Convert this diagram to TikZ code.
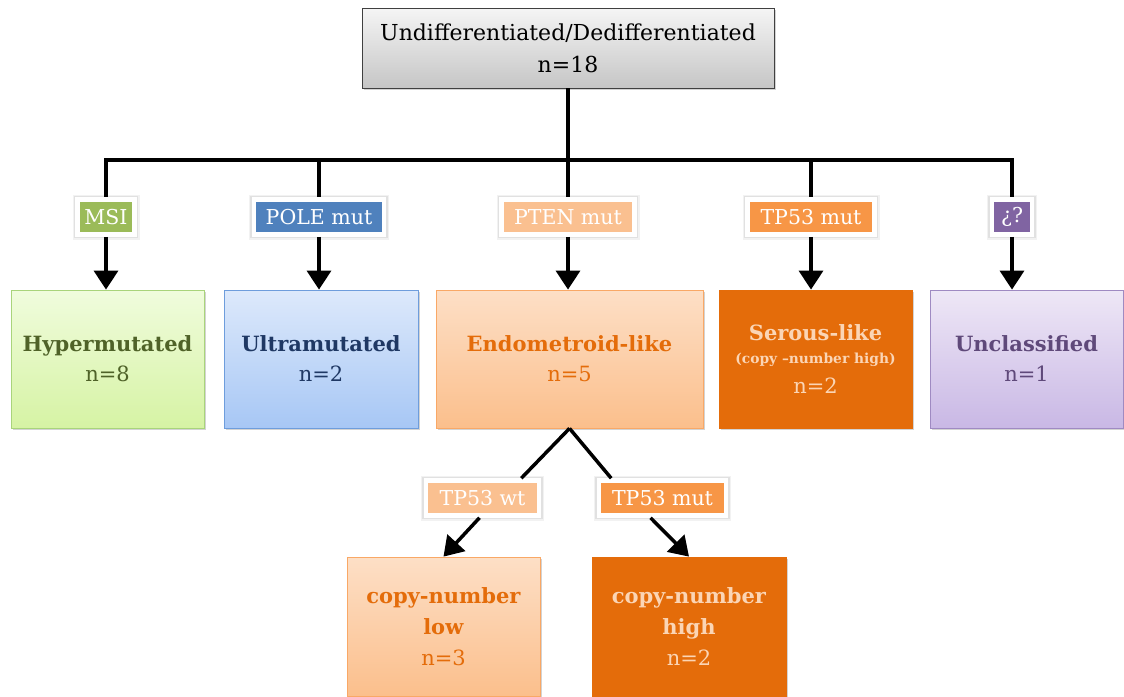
\documentclass[tikz,border=0pt]{standalone}
\usepackage{fontspec}
\setmainfont{DejaVu Serif}
\usetikzlibrary{shadows,arrows.meta,calc}
\definecolor{gbord}{HTML}{404040}
\definecolor{msi}{HTML}{9BBB59}
\definecolor{pole}{HTML}{4F81BD}
\definecolor{pten}{HTML}{FAC090}
\definecolor{tpmut}{HTML}{F79646}
\definecolor{unk}{HTML}{8064A2}
\definecolor{dorange}{HTML}{E46C0A}
\definecolor{lpeach}{HTML}{FBD5B5}
\definecolor{olive}{HTML}{4F6228}
\definecolor{navy}{HTML}{1F3864}
\definecolor{purp}{HTML}{5F497A}
\definecolor{gtop}{HTML}{F0FCDD}
\definecolor{gbot}{HTML}{D6F3A4}
\definecolor{gbrd}{HTML}{A9D47B}
\definecolor{btop}{HTML}{DDE9FB}
\definecolor{bbot}{HTML}{A7C7F5}
\definecolor{bbrd}{HTML}{6E9DDC}
\definecolor{ptop}{HTML}{EEE7F6}
\definecolor{pbot}{HTML}{C9B8E5}
\definecolor{pbrd}{HTML}{9F8AC2}
\definecolor{otop}{HTML}{FDDFC6}
\definecolor{obot}{HTML}{FBBF8C}
\definecolor{obrd}{HTML}{F9A866}
\begin{document}
\begin{tikzpicture}[x=1pt,y=-1pt,
  box/.style={rectangle,align=center,inner sep=0pt,minimum width=193pt,minimum height=138pt,
    drop shadow={opacity=0.35,shadow xshift=2pt,shadow yshift=-2pt},line width=0.8pt,
    font=\fontsize{21}{30}\selectfont},
  tag/.style={rectangle,inner sep=0pt,minimum height=35pt,text=white,
    preaction={draw=black,draw opacity=0.05,line width=10pt},
    preaction={draw=black,draw opacity=0.07,line width=7.5pt},
    draw=white,line width=4.5pt,
    font=\fontsize{20.5}{24}\selectfont},
  conn/.style={line width=3.5pt,draw=black},
  arr/.style={conn,-{Triangle[width=24pt,length=19pt]}},
]
\useasboundingbox (0,0) rectangle (1124,696);

\node[box,minimum width=412pt,minimum height=80pt,draw=gbord,top color=gray!8,bottom color=gray!45,
  font=\fontsize{22}{32}\selectfont] (top) at (568,48) {Undifferentiated/Dedifferentiated\\n=18};

% tags
\node[tag,fill=msi,minimum width=57pt] (t1) at (106,217) {MSI};
\node[tag,fill=pole,minimum width=130pt] (t2) at (319,217) {POLE mut};
\node[tag,fill=pten,minimum width=133pt] (t3) at (568,217) {PTEN mut};
\node[tag,fill=tpmut,minimum width=127pt] (t4) at (811,217) {TP53 mut};
\node[tag,fill=unk,minimum width=40pt] (t5) at (1012,217) {¿?};

% boxes
\node[box,draw=gbrd,top color=gtop,bottom color=gbot,text=olive] (b1) at (107.5,359)
  {\textbf{Hypermutated}\\n=8};
\node[box,minimum width=194pt,draw=bbrd,top color=btop,bottom color=bbot,text=navy] (b2) at (321,359)
  {\textbf{Ultramutated}\\n=2};
\node[box,minimum width=267pt,draw=obrd,top color=otop,bottom color=obot,text=dorange] (b3) at (569.5,359)
  {\textbf{Endometroid-like}\\n=5};
\node[box,fill=dorange,draw=dorange,text=lpeach] (b4) at (815.5,359)
  {\textbf{Serous-like}\\[-7pt]{\fontsize{13.8}{16}\selectfont\textbf{(copy –number high)}}\\n=2};
\node[box,draw=pbrd,top color=ptop,bottom color=pbot,text=purp] (b5) at (1026.5,359)
  {\textbf{Unclassified}\\n=1};

% second level
\node[tag,fill=pten,minimum width=113pt] (w1) at (482.5,498) {TP53 wt};
\node[tag,fill=tpmut,minimum width=127pt] (w2) at (662.5,498) {TP53 mut};
\node[box,minimum height=139pt,draw=obrd,top color=otop,bottom color=obot,text=dorange,
  font=\fontsize{21}{31}\selectfont] (c1) at (443.5,626.5)
  {\textbf{copy-number}\\\textbf{low}\\n=3};
\node[box,minimum width=194pt,minimum height=139pt,fill=dorange,draw=dorange,text=lpeach,
  font=\fontsize{21}{31}\selectfont] (c2) at (689,626.5)
  {\textbf{copy-number}\\\textbf{high}\\n=2};

% connectors
\coordinate (bar) at (568,160);
\coordinate (barL) at (106,160);
\coordinate (barR) at (1012,160);
\draw[conn] (top.south) -- (bar);
\draw[conn,line cap=rect] (barL) -- (barR);
\draw[conn] (barL) -- (t1.north);
\draw[conn] (t2.north |- bar) -- (t2.north);
\draw[conn] (bar) -- (t3.north);
\draw[conn] (t4.north |- bar) -- (t4.north);
\draw[conn] (barR) -- (t5.north);
\foreach \a/\b in {t1/b1,t2/b2,t3/b3,t4/b4,t5/b5}{
  \draw[arr] (\a.south) -- (\b.north -| \a.south);
}
\draw[conn] (b3.south) -- ($(w1.north)!0.66!(w1.north east)$);
\draw[conn] (b3.south) -- ($(w2.north)!0.78!(w2.north west)$);
\draw[arr] ($(w1.south)+(-3,0)$) -- (c1.north);
\draw[arr] ($(w2.south)+(-12,0)$) -- (c2.north);
\end{tikzpicture}
\end{document}
